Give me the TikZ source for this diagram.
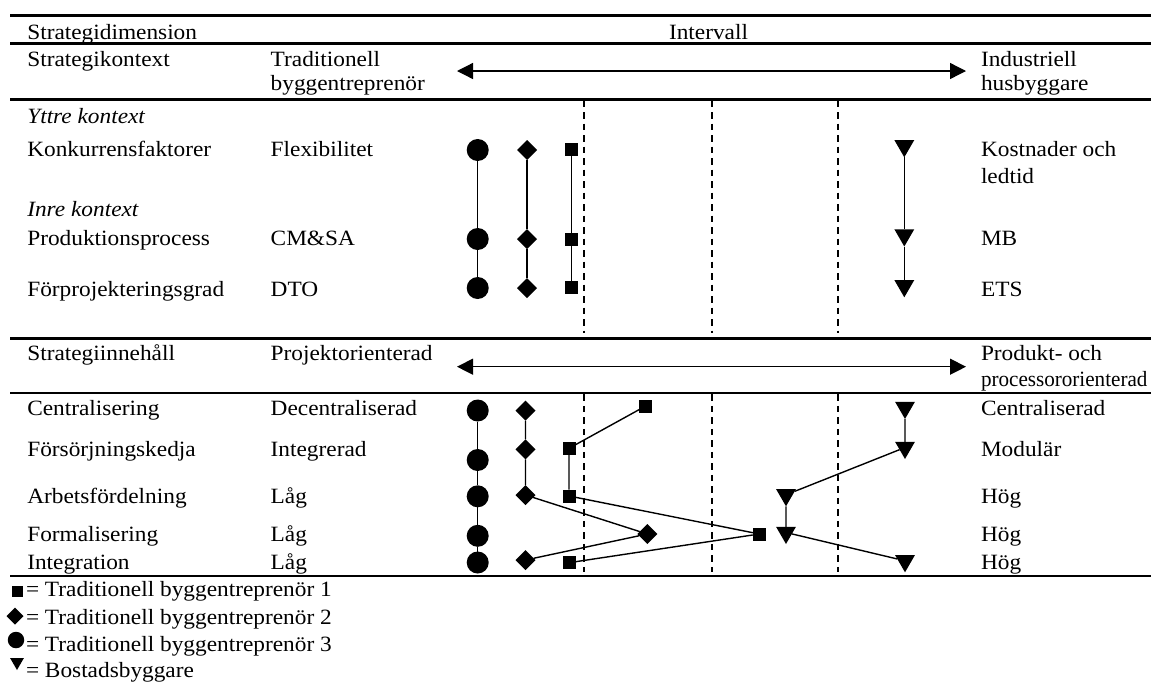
\documentclass[tikz,border=0pt]{standalone}
\usepackage{graphicx}
\usepackage{fontspec}
\setmainfont[FakeStretch=1.07]{Liberation Serif}
\usetikzlibrary{shapes.geometric,arrows.meta}
\newcommand\twol[3]{\vtop{\baselineskip=#1pt\hbox{#2}\hbox{#3}}}
\tikzset{
  txt/.style={anchor=base west, inner sep=0pt, outer sep=0pt},
  rulel/.style={line width=2.6pt},
  vdash/.style={line width=2pt, dash pattern=on 6.5pt off 5pt},
  conn/.style={line width=1.4pt},
  arr/.style={line width=1.3pt, {Triangle[length=16pt,width=16pt]}-{Triangle[length=16pt,width=16pt]}},
  circ/.style={circle, fill, minimum size=22pt, inner sep=0pt, outer sep=0pt},
  dia/.style={diamond, fill, minimum width=20pt, minimum height=20pt, inner sep=0pt, outer sep=0pt},
  sq/.style={rectangle, fill, minimum size=13pt, inner sep=0pt, outer sep=0pt},
  tri/.style={regular polygon, regular polygon sides=3, shape border rotate=180, fill, minimum size=23pt, inner sep=0pt, outer sep=0pt},
}
\begin{document}
\begin{tikzpicture}[x=1pt,y=-1pt,font=\fontsize{21.8pt}{24pt}\selectfont]
\useasboundingbox (0,0) rectangle (1151,681);
% rules
\foreach \yy in {15.7,43.3,99.3,338.3,393,576}{\draw[rulel] (10,\yy) -- (1151,\yy);}
% dashed interval lines
\foreach \xx in {584,712,838}{
  \draw[vdash] (\xx,100.5) -- (\xx,333.3);
  \draw[vdash] (\xx,394.3) -- (\xx,572);
}
% header
\node[txt] (h1) at (27.3,39.3) {Strategidimension};
\node[txt,anchor=base] (h2) at (708.5,39.3) {Intervall};
% strategikontext
\node[txt] (k1) at (27.3,66.7) {Strategikontext};
\node[txt] (k2) at (270.7,66.7) {\twol{24}{Traditionell}{byggentreprenör}};
\node[txt] (k3) at (981,66.7) {\twol{24}{Industriell}{husbyggare}};
\coordinate (a1l) at (457,71);
\coordinate (a1r) at (966,71);
\draw[arr] (a1l) -- (a1r);
\node[txt] (yk) at (27.3,123.3) {\itshape Yttre kontext};
\node[txt] (r1a) at (27.3,156) {Konkurrensfaktorer};
\node[txt] (r1b) at (270.7,156) {Flexibilitet};
\node[txt] (r1c) at (981,156) {\twol{27.3}{Kostnader och}{ledtid}};
\node[txt] (ik) at (27.3,216.7) {\itshape Inre kontext};
\node[txt] (r2a) at (27.3,245.7) {Produktionsprocess};
\node[txt] (r2b) at (270.7,245.7) {CM\&SA};
\node[txt] (r2c) at (981,245.7) {MB};
\node[txt] (r3a) at (27.3,296.7) {Förprojekteringsgrad};
\node[txt] (r3b) at (270.7,296.7) {DTO};
\node[txt] (r3c) at (981,296.7) {ETS};
% strategiinnehall
\node[txt] (i1) at (27.3,360) {Strategiinnehåll};
\node[txt] (i2) at (270.7,360) {Projektorienterad};
\node[txt] (i3) at (981,360) {\twol{26.7}{Produkt- och}{\scalebox{0.905}[1]{processororienterad}}};
\coordinate (a2l) at (457,366.7);
\coordinate (a2r) at (966,366.7);
\draw[arr] (a2l) -- (a2r);
\node[txt] (s1a) at (27.3,415) {Centralisering};
\node[txt] (s1b) at (270.7,415) {Decentraliserad};
\node[txt] (s1c) at (981,415) {Centraliserad};
\node[txt] (s2a) at (27.3,456) {Försörjningskedja};
\node[txt] (s2b) at (270.7,456) {Integrerad};
\node[txt] (s2c) at (981,456) {Modulär};
\node[txt] (s3a) at (27.3,503.3) {Arbetsfördelning};
\node[txt] (s3b) at (270.7,503.3) {Låg};
\node[txt] (s3c) at (981,503.3) {Hög};
\node[txt] (s4a) at (27.3,541.7) {Formalisering};
\node[txt] (s4b) at (270.7,541.7) {Låg};
\node[txt] (s4c) at (981,541.7) {Hög};
\node[txt] (s5a) at (27.3,569) {Integration};
\node[txt] (s5b) at (270.7,569) {Låg};
\node[txt] (s5c) at (981,569) {Hög};
% upper markers
\node[circ] (uc1) at (477.7,150) {};
\node[circ] (uc2) at (477.7,239) {};
\node[circ] (uc3) at (477.7,288) {};
\node[dia] (ud1) at (527,150) {};
\node[dia] (ud2) at (527,239) {};
\node[dia] (ud3) at (527,288) {};
\node[sq] (us1) at (571.5,149) {};
\node[sq] (us2) at (571.5,239) {};
\node[sq] (us3) at (571.5,287.5) {};
\node[tri] (ut1) at (904.3,145.8) {};
\node[tri] (ut2) at (904.3,235) {};
\node[tri] (ut3) at (904.3,285.8) {};
\draw[conn] (uc1) -- (uc2) -- (uc3);
\draw[conn] (ud1) -- (ud2) -- (ud3);
\draw[conn] (us1) -- (us2) -- (us3);
\draw[conn] (ut1) -- (ut2) -- (ut3);
% lower markers
\node[circ] (lc1) at (477.7,410.5) {};
\node[circ] (lc2) at (477.7,460) {};
\node[circ] (lc3) at (477.7,496.3) {};
\node[circ] (lc4) at (477.7,535.8) {};
\node[circ] (lc5) at (477.7,562.5) {};
\node[dia] (ld1) at (525.5,410.7) {};
\node[dia] (ld2) at (525.5,449.3) {};
\node[dia] (ld3) at (525.5,495) {};
\node[dia] (ld4) at (647.3,534) {};
\node[dia] (ld5) at (525.5,560) {};
\node[sq] (ls1) at (645.7,406) {};
\node[sq] (ls2) at (569,448.3) {};
\node[sq] (ls3) at (569,496) {};
\node[sq] (ls4) at (759.3,534) {};
\node[sq] (ls5) at (569,562.7) {};
\node[tri] (lt1) at (905,407.5) {};
\node[tri] (lt2) at (905,447.5) {};
\node[tri] (lt3) at (786,494.8) {};
\node[tri] (lt4) at (786,532.5) {};
\node[tri] (lt5) at (905,560.8) {};
\draw[conn] (lc1) -- (lc2) -- (lc3) -- (lc4) -- (lc5);
\draw[conn] (ld1) -- (ld2) -- (ld3) -- (ld4) -- (ld5);
\draw[conn] (ls1) -- (ls2) -- (ls3) -- (ls4) -- (ls5);
\draw[conn] (lt1) -- (lt2) -- (lt3) -- (lt4) -- (lt5);
% legend
\node[sq, minimum size=11pt] (g1) at (17,591.5) {};
\node[dia, minimum width=17pt, minimum height=17pt] (g2) at (15,616) {};
\node[circ, minimum size=16.5pt] (g3) at (16,640) {};
\node[tri, minimum size=16pt] (g4) at (17,662) {};
\node[txt] (l1) at (26,596.7) {= Traditionell byggentreprenör 1};
\node[txt] (l2) at (26,624.3) {= Traditionell byggentreprenör 2};
\node[txt] (l3) at (26,651) {= Traditionell byggentreprenör 3};
\node[txt] (l4) at (26,677.7) {= Bostadsbyggare};
\end{tikzpicture}
\end{document}
